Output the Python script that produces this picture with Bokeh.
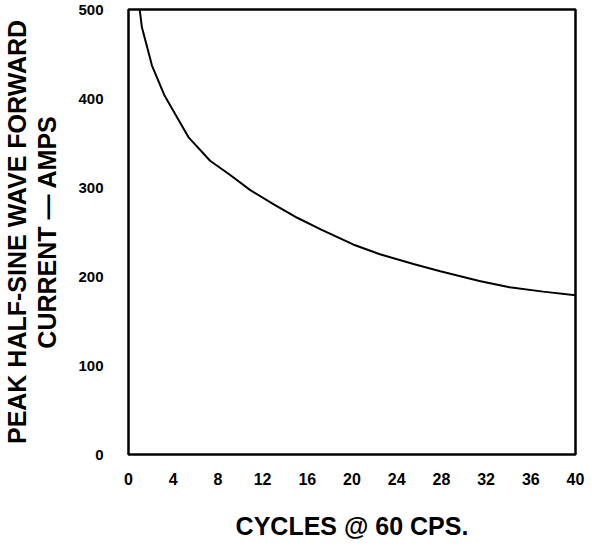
from bokeh.plotting import figure
from bokeh.models import Range1d, FixedTicker
from bokeh.embed import file_html
from bokeh.resources import INLINE

cycles = [1, 1.2, 2.1, 3.2, 4.2, 5.4, 7.3, 9.1, 10.9, 13.0, 15.1, 17.2, 20.1, 22.5, 25.5, 27.9, 31.4, 34.1, 37.1, 40]
current = [500, 480, 437, 404, 382, 356, 330, 314, 297, 281, 266, 253, 236, 225, 214, 206, 195, 188, 183, 179]
x_ticks = [0, 4, 8, 12, 16, 20, 24, 28, 32, 36, 40]
y_ticks = [0, 100, 200, 300, 400, 500]
x_title = "CYCLES @ 60 CPS."
y_title = "PEAK HALF-SINE WAVE FORWARD\nCURRENT \u2014 AMPS"

FONT = "Liberation Sans"

p = figure(frame_width=447, frame_height=445, output_backend="svg", toolbar_location=None,
           x_range=Range1d(0, 40), y_range=Range1d(0, 500),
           min_border_left=122, min_border_right=15, min_border_top=9, min_border_bottom=92)

p.line(cycles, current, line_color="black", line_width=2)

p.grid.visible = False
p.outline_line_color = "black"
p.outline_line_width = 2.5
p.background_fill_color = "white"
p.border_fill_color = "white"

for ax in (p.xaxis[0], p.yaxis[0]):
    ax.axis_line_color = None
    ax.major_tick_line_color = None
    ax.minor_tick_line_color = None
    ax.major_tick_out = 0
    ax.minor_tick_out = 0
    ax.major_label_text_font = FONT
    ax.major_label_text_font_style = "bold"
    ax.major_label_text_color = "black"
    ax.axis_label_text_font = FONT
    ax.axis_label_text_font_style = "bold"
    ax.axis_label_text_color = "black"

p.xaxis.ticker = FixedTicker(ticks=x_ticks)
p.yaxis.ticker = FixedTicker(ticks=y_ticks)
p.xaxis.major_label_text_font_size = "16px"
p.yaxis.major_label_text_font_size = "15px"
p.xaxis.major_label_standoff = 18
p.yaxis.major_label_standoff = 25

p.xaxis.axis_label = x_title
p.xaxis.axis_label_text_font_size = "25px"
p.xaxis.axis_label_standoff = 24

p.yaxis.axis_label = y_title
p.yaxis.axis_label_text_font_size = "25px"
p.yaxis.axis_label_standoff = 14
p.yaxis.axis_label_text_line_height = 1.08

open("out.html", "w").write(file_html(p, INLINE))
